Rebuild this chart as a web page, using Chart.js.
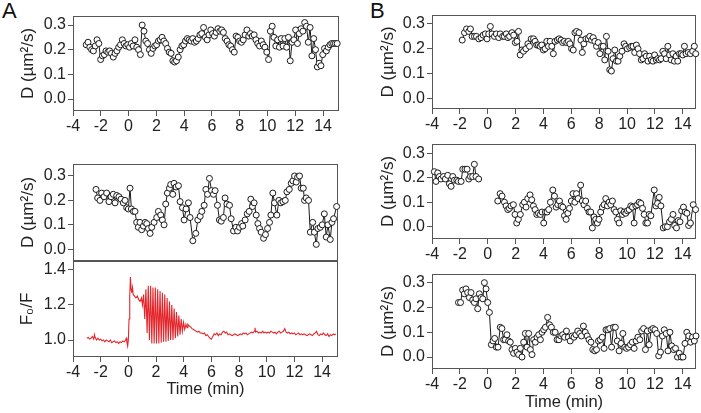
<!DOCTYPE html>
<html><head><meta charset="utf-8">
<script src="https://cdn.jsdelivr.net/npm/chart.js@4.4.1/dist/chart.umd.min.js"></script>
<style>
html,body{margin:0;padding:0;background:#fff;}
#wrap{position:relative;width:701px;height:413px;overflow:hidden;background:#fff;}
canvas{position:absolute;left:0;top:0;}
.lbl{position:absolute;font-family:"Liberation Sans",Arial,sans-serif;font-size:22px;line-height:22px;color:#111;}
</style></head><body>
<div id="wrap">
<div class="lbl" style="left:2px;top:0px">A</div>
<div class="lbl" style="left:370px;top:0px">B</div>
<canvas id="cA1" width="701" height="413"></canvas>
<canvas id="cA2" width="701" height="413"></canvas>
<canvas id="cA3" width="701" height="413"></canvas>
<canvas id="cB1" width="701" height="413"></canvas>
<canvas id="cB2" width="701" height="413"></canvas>
<canvas id="cB3" width="701" height="413"></canvas>
</div>
<script>
// ---------- tick labels ----------
const X_TICKS = [-4,-2,0,2,4,6,8,10,12,14];
const D_TICKS = [0.0,0.1,0.2,0.3];
const F_TICKS = [1.0,1.2,1.4];
const X_TITLE = 'Time (min)';
const D_TITLE = 'D (\u00b5m\u00b2/s)';
const F_TITLE = 'F\u2080/F';

// ---------- data: [time (min), value] ----------
const dA1 = [[-3.05,.22],[-2.92,.23],[-2.79,.21],[-2.66,.20],[-2.53,.195],[-2.40,.215],[-2.27,.24],[-2.14,.225],[-2.01,.16],[-1.88,.175],
[-1.75,.18],[-1.62,.195],[-1.49,.19],[-1.36,.195],[-1.23,.185],[-1.10,.17],[-0.97,.185],[-0.84,.195],[-0.71,.21],[-0.58,.22],
[-0.45,.24],[-0.32,.225],[-0.19,.215],[-0.06,.22],[0.07,.21],[0.20,.225],[0.33,.215],[0.46,.24],[0.59,.21],[0.72,.20],
[0.85,.18],[0.98,.30],[1.11,.275],[1.24,.235],[1.37,.225],[1.50,.20],[1.63,.185],[1.76,.205],[1.89,.215],[2.02,.22],
[2.15,.235],[2.28,.24],[2.41,.25],[2.54,.235],[2.67,.225],[2.80,.205],[2.93,.19],[3.06,.185],[3.19,.155],[3.32,.15],
[3.45,.155],[3.58,.17],[3.71,.20],[3.84,.215],[3.97,.22],[4.10,.235],[4.23,.245],[4.36,.24],[4.49,.235],[4.62,.245],
[4.75,.23],[4.88,.235],[5.01,.245],[5.14,.26],[5.27,.265],[5.40,.29],[5.53,.25],[5.66,.24],[5.79,.26],[5.92,.28],
[6.05,.265],[6.18,.255],[6.31,.27],[6.44,.285],[6.57,.275],[6.70,.28],[6.83,.27],[6.96,.245],[7.09,.235],[7.22,.22],
[7.35,.215],[7.48,.20],[7.61,.19],[7.74,.255],[7.87,.25],[8.00,.235],[8.13,.23],[8.26,.24],[8.39,.26],[8.52,.28],
[8.65,.255],[8.78,.265],[8.91,.255],[9.04,.26],[9.17,.24],[9.30,.225],[9.43,.215],[9.56,.235],[9.69,.22],[9.82,.21],
[9.95,.19],[10.08,.16],[10.21,.275],[10.34,.295],[10.47,.25],[10.60,.215],[10.73,.24],[10.86,.21],[10.99,.245],[11.12,.215],
[11.25,.245],[11.38,.21],[11.51,.25],[11.64,.155],[11.77,.23],[11.90,.24],[12.03,.28],[12.16,.225],[12.29,.265],[12.42,.285],
[12.55,.275],[12.68,.31],[12.81,.295],[12.94,.23],[13.07,.29],[13.20,.175],[13.33,.245],[13.46,.20],[13.59,.13],[13.72,.145],
[13.85,.135],[13.98,.18],[14.11,.205],[14.24,.195],[14.37,.21],[14.50,.22],[14.63,.225],[14.76,.225],[14.89,.225],[15.02,.225]];

const dA2 = [[-2.34,.245],[-2.22,.21],[-2.05,.20],[-1.93,.23],[-1.76,.215],[-1.57,.23],[-1.40,.195],[-1.25,.215],[-1.09,.225],[-0.96,.19],
[-0.84,.22],[-0.68,.215],[-0.53,.205],[-0.36,.19],[-0.24,.20],[-0.12,.17],[0.0,.165],[0.12,.25],[0.22,.165],[0.36,.155],
[0.48,.155],[0.60,.11],[0.72,.09],[0.84,.11],[0.96,.08],[1.09,.095],[1.21,.11],[1.33,.105],[1.45,.085],[1.57,.065],
[1.69,.09],[1.86,.11],[2.05,.13],[2.17,.155],[2.34,.14],[2.46,.12],[2.58,.10],[2.70,.185],[2.82,.23],[2.97,.25],
[3.06,.265],[3.21,.225],[3.30,.27],[3.45,.255],[3.62,.26],[3.74,.195],[3.91,.17],[4.03,.12],[4.17,.165],[4.34,.19],
[4.46,.13],[4.66,.035],[4.87,.065],[5.02,.12],[5.19,.135],[5.31,.155],[5.48,.18],[5.60,.245],[5.72,.225],[5.86,.29],
[6.01,.24],[6.15,.225],[6.27,.24],[6.44,.18],[6.58,.12],[6.71,.115],[6.87,.13],[6.99,.21],[7.12,.185],[7.31,.18],
[7.43,.125],[7.60,.075],[7.77,.09],[7.89,.075],[8.03,.09],[8.18,.105],[8.27,.095],[8.44,.12],[8.59,.145],[8.73,.155],
[8.85,.205],[8.97,.175],[9.09,.19],[9.24,.14],[9.36,.105],[9.48,.085],[9.60,.07],[9.77,.045],[9.91,.06],[10.06,.085],
[10.20,.11],[10.30,.14],[10.44,.23],[10.56,.19],[10.73,.14],[10.88,.20],[11.02,.19],[11.17,.195],[11.34,.20],[11.46,.235],
[11.63,.245],[11.77,.27],[11.89,.28],[12.01,.30],[12.13,.275],[12.23,.295],[12.37,.30],[12.49,.25],[12.64,.25],[12.73,.20],
[12.85,.21],[13.02,.20],[13.15,.07],[13.32,.11],[13.44,.07],[13.58,.02],[13.70,.085],[13.87,.09],[14.01,.10],[14.16,.145],
[14.30,.05],[14.42,.10],[14.59,.04],[14.71,.11],[14.83,.125],[15.05,.175]];

const fA3 = [[-3.0,1.01],[-2.9,1.015],[-2.8,1.005],[-2.7,1.01],[-2.6,1.02],[-2.5,1.005],[-2.45,1.03],[-2.4,1.015],[-2.3,1.0],[-2.2,1.01],
[-2.1,1.0],[-2.0,1.005],[-1.9,0.995],[-1.8,1.0],[-1.7,0.99],[-1.6,1.0],[-1.5,0.995],[-1.4,0.99],[-1.3,1.0],[-1.2,0.985],
[-1.1,0.99],[-1.0,0.995],[-0.9,0.985],[-0.8,0.99],[-0.7,0.98],[-0.6,0.99],[-0.5,0.985],[-0.4,0.995],[-0.3,0.99],[-0.2,1.0],
[-0.15,1.01],[-0.1,0.985],[-0.05,0.965],[0.0,1.0],[0.05,1.12],[0.1,1.25],[0.15,1.36],[0.2,1.29],[0.25,1.27],[0.3,1.30],
[0.35,1.26],[0.45,1.25],[0.55,1.24],[0.65,1.25],[0.75,1.23],[0.85,1.22],[0.95,1.24],[1.02,1.20],
[1.10,1.26],[1.185,1.12],[1.27,1.29],[1.355,1.04],[1.44,1.31],[1.525,1.0],[1.61,1.31],[1.695,0.98],[1.78,1.30],[1.865,0.98],
[1.95,1.30],[2.035,0.98],[2.12,1.29],[2.205,0.98],[2.29,1.28],[2.375,0.985],[2.46,1.27],[2.545,0.99],[2.63,1.26],[2.715,0.99],
[2.80,1.24],[2.885,0.995],[2.97,1.22],[3.055,1.0],[3.14,1.20],[3.225,1.0],[3.31,1.18],[3.395,1.01],[3.48,1.16],[3.565,1.02],
[3.65,1.14],[3.735,1.03],[3.82,1.12],[3.905,1.05],[3.99,1.10],[4.075,1.06],[4.16,1.09],[4.245,1.07],
[4.3,1.09],[4.4,1.08],[4.5,1.075],[4.6,1.065],[4.7,1.06],[4.8,1.055],[4.9,1.05],[5.0,1.045],[5.1,1.05],[5.2,1.04],
[5.3,1.04],[5.4,1.035],[5.5,1.04],[5.6,1.025],[5.7,1.03],[5.8,1.02],[5.9,1.01],[6.0,1.005],[6.1,1.02],[6.2,1.035],
[6.3,1.03],[6.4,1.04],[6.5,1.025],[6.6,1.035],[6.7,1.03],[6.8,1.045],[6.9,1.05],[7.0,1.04],[7.1,1.045],[7.2,1.03],
[7.3,1.035],[7.4,1.03],[7.5,1.025],[7.6,1.03],[7.7,1.035],[7.8,1.03],[7.9,1.025],[8.0,1.03],[8.1,1.035],[8.2,1.03],
[8.3,1.04],[8.4,1.035],[8.5,1.04],[8.6,1.03],[8.7,1.035],[8.8,1.04],[8.9,1.045],[9.0,1.04],[9.1,1.05],[9.15,1.07],
[9.2,1.045],[9.3,1.05],[9.4,1.04],[9.5,1.045],[9.6,1.04],[9.7,1.05],[9.8,1.04],[9.9,1.045],[10.0,1.04],[10.1,1.045],
[10.2,1.04],[10.3,1.05],[10.4,1.045],[10.5,1.04],[10.6,1.045],[10.7,1.035],[10.8,1.045],[10.9,1.05],[11.0,1.04],[11.1,1.045],
[11.2,1.05],[11.3,1.065],[11.4,1.045],[11.5,1.04],[11.6,1.045],[11.7,1.035],[11.8,1.04],[11.9,1.035],[12.0,1.04],[12.1,1.03],
[12.2,1.035],[12.3,1.04],[12.4,1.03],[12.5,1.035],[12.6,1.03],[12.7,1.035],[12.8,1.03],[12.9,1.025],[13.0,1.03],[13.1,1.035],
[13.2,1.03],[13.3,1.025],[13.4,1.035],[13.5,1.04],[13.6,1.05],[13.7,1.03],[13.8,1.025],[13.9,1.035],[14.0,1.03],[14.1,1.04],
[14.2,1.03],[14.3,1.025],[14.4,1.035],[14.5,1.02],[14.6,1.03],[14.7,1.025],[14.8,1.035],[14.9,1.03],[15.0,1.035]];

const dB1 = [[-1.83,.235],[-1.67,.265],[-1.52,.28],[-1.36,.27],[-1.24,.28],[-1.12,.25],[-0.95,.25],[-0.81,.25],[-0.64,.24],[-0.48,.245],
[-0.33,.255],[-0.17,.26],[-0.05,.24],[0.07,.26],[0.19,.29],[0.31,.26],[0.48,.25],[0.62,.26],[0.79,.245],[0.90,.26],
[1.07,.25],[1.19,.25],[1.33,.26],[1.45,.245],[1.57,.25],[1.74,.265],[1.86,.255],[1.98,.225],[2.10,.23],[2.21,.27],
[2.33,.175],[2.45,.195],[2.57,.19],[2.74,.20],[2.88,.22],[3.00,.21],[3.12,.24],[3.29,.24],[3.40,.23],[3.52,.215],
[3.64,.215],[3.76,.21],[3.88,.215],[4.00,.195],[4.12,.20],[4.24,.23],[4.36,.21],[4.48,.23],[4.60,.21],[4.71,.18],
[4.83,.23],[5.00,.235],[5.12,.24],[5.26,.235],[5.38,.225],[5.50,.23],[5.67,.225],[5.79,.23],[5.90,.22],[6.02,.20],
[6.14,.195],[6.26,.265],[6.38,.27],[6.55,.265],[6.69,.235],[6.79,.185],[6.90,.22],[7.05,.24],[7.21,.24],[7.33,.25],
[7.45,.235],[7.57,.245],[7.69,.23],[7.81,.21],[7.93,.225],[8.05,.18],[8.17,.21],[8.29,.21],[8.40,.155],[8.52,.25],
[8.64,.19],[8.76,.115],[8.88,.11],[9.00,.16],[9.12,.195],[9.24,.15],[9.36,.15],[9.48,.17],[9.64,.19],[9.79,.22],
[9.90,.21],[10.02,.20],[10.19,.205],[10.31,.21],[10.43,.21],[10.55,.185],[10.67,.215],[10.79,.20],[10.90,.18],[11.02,.155],
[11.14,.16],[11.26,.18],[11.38,.17],[11.50,.15],[11.62,.17],[11.74,.155],[11.86,.15],[11.98,.175],[12.10,.155],[12.21,.16],
[12.33,.155],[12.45,.16],[12.57,.19],[12.69,.18],[12.81,.16],[12.93,.21],[13.05,.175],[13.17,.155],[13.29,.18],[13.40,.15],
[13.52,.17],[13.64,.15],[13.76,.18],[13.88,.18],[14.00,.175],[14.12,.21],[14.24,.18],[14.40,.185],[14.55,.18],[14.71,.19],
[14.83,.21],[14.93,.18]];

const dB2 = [[-3.83,.225],[-3.71,.185],[-3.59,.22],[-3.47,.205],[-3.35,.195],[-3.18,.205],[-3.04,.195],[-2.87,.21],[-2.75,.175],[-2.63,.165],
[-2.51,.205],[-2.39,.19],[-2.22,.19],[-2.11,.185],[-1.91,.185],[-1.79,.235],[-1.63,.235],[-1.48,.235],[-1.36,.195],[-1.24,.205],
[-1.08,.205],[-0.96,.255],[-0.84,.205],[-0.65,.195],[0.0,null],
[0.72,.105],[0.89,.135],[1.03,.125],[1.20,.10],[1.32,.085],[1.44,.07],[1.56,.075],[1.67,.085],[1.84,.09],[1.96,.05],
[2.08,.015],[2.20,.03],[2.34,.05],[2.51,.09],[2.63,.10],[2.75,.08],[2.87,.115],[3.04,.13],[3.16,.11],[3.28,.085],
[3.40,.07],[3.52,.05],[3.64,.055],[3.78,.05],[3.90,.06],[4.02,.015],[4.14,.06],[4.26,.06],[4.38,.07],[4.50,.10],
[4.67,.15],[4.79,.125],[4.91,.08],[5.03,.09],[5.15,.105],[5.27,.085],[5.39,.08],[5.51,.045],[5.63,.03],[5.75,.055],
[5.87,.075],[6.00,.105],[6.12,.135],[6.25,.10],[6.37,.135],[6.49,.115],[6.67,.17],[6.79,.105],[6.91,.09],[7.03,.105],
[7.15,.075],[7.27,.06],[7.39,.06],[7.51,-.005],[7.63,.04],[7.75,.03],[7.87,.015],[7.99,.03],[8.11,.06],[8.23,.08],
[8.35,.09],[8.47,.115],[8.59,.085],[8.71,.10],[8.83,.09],[8.95,.105],[9.07,.07],[9.19,.06],[9.31,.03],[9.43,.015],
[9.55,.065],[9.67,.05],[9.79,.06],[9.91,.055],[10.03,.065],[10.15,.07],[10.27,.085],[10.39,.08],[10.51,.015],[10.63,.085],
[10.75,.09],[10.87,.10],[10.99,.095],[11.11,.075],[11.23,.05],[11.35,.015],[11.47,.015],[11.59,.05],[11.71,.045],[11.95,.15],
[12.07,.085],[12.19,.095],[12.31,.12],[12.43,.085],[12.60,-.005],[12.75,.0],[12.90,.0],[13.05,.02],[13.18,.03],[13.30,.05],
[13.42,.005],[13.55,-.005],[13.67,.025],[13.80,.02],[13.92,.065],[14.05,.08],[14.17,.06],[14.30,.055],[14.42,.005],[14.55,.015],
[14.75,.09],[14.92,.07]];

const dB3 = [[-2.1,.22],[-1.95,.22],[-1.8,.27],[-1.68,.255],[-1.56,.275],[-1.44,.26],[-1.32,.24],[-1.2,.26],[-1.08,.23],[-0.96,.22],
[-0.84,.235],[-0.72,.195],[-0.6,.255],[-0.48,.24],[-0.36,.235],[-0.24,.30],[-0.12,.275],[0.0,.22],[0.12,.18],[0.26,.05],
[0.38,.065],[0.5,.075],[0.62,.04],[0.74,.04],[0.9,.12],[1.02,.115],[1.14,.07],[1.26,.07],[1.38,.09],[1.5,.065],
[1.62,.06],[1.74,.03],[1.86,.015],[1.98,.035],[2.1,.02],[2.22,.01],[2.34,.035],[2.46,.0],[2.58,.06],[2.7,.095],
[2.82,.04],[2.94,.095],[3.06,.03],[3.18,.01],[3.3,.07],[3.42,.06],[3.54,.08],[3.66,.09],[3.78,.07],[3.9,.10],
[4.02,.11],[4.14,.12],
[4.30,.16],[4.44,.13],[4.57,.12],[4.71,.10],[4.84,.10],[4.98,.07],[5.11,.07],[5.25,.085],[5.38,.09],[5.52,.08],
[5.65,.105],[5.79,.08],[5.92,.065],[6.06,.085],[6.19,.08],[6.33,.09],[6.46,.105],[6.60,.095],[6.73,.085],[6.87,.125],
[7.00,.10],[7.14,.085],[7.27,.07],[7.41,.06],[7.54,.03],[7.68,.025],[7.81,.03],[7.95,.065],[8.08,.07],[8.22,.08],
[8.35,.035],[8.49,.11],[8.62,.11],[8.76,.115],[8.89,.04],[9.03,.12],[9.16,.12],[9.30,.065],[9.43,.025],[9.57,.055],
[9.70,.095],[9.84,.04],[9.97,.035],[10.11,.04],[10.24,.05],[10.38,.06],[10.51,.035],[10.65,.065],[10.78,.08],[10.92,.07],
[11.05,.105],[11.19,.115],[11.32,.03],[11.46,.105],[11.59,.05],[11.73,.11],[11.86,.115],[12.00,.11],[12.13,.095],[12.27,.005],
[12.40,.02],[12.54,.085],[12.67,.11],[12.81,.095],[12.94,.025],[13.08,.10],[13.21,.045],[13.35,.03],[13.48,.035],[13.62,.0],
[13.75,.015],[13.89,.0],[14.02,.0],[14.16,.055],[14.29,.10],[14.43,.085],[14.56,.06],[14.70,.08],[14.83,.065],[14.95,.085]];

// ---------- styling ----------
const FONT = '"Liberation Sans", Arial, sans-serif';
const AXIS = '#555555';
const TXT = '#222222';

const frame = {
  id: 'frame',
  beforeDatasetsDraw(chart) {
    const {ctx, chartArea: a} = chart;
    ctx.save();
    ctx.strokeStyle = AXIS; ctx.lineWidth = 1;
    const l = Math.round(a.left) + 0.5, t = Math.round(a.top) + 0.5;
    const r = Math.round(a.right) - 0.5, b = Math.round(a.bottom) - 0.5;
    ctx.strokeRect(l, t, r - l, b - t);
    ctx.restore();
  }
};

const gridOpt = {display: true, drawOnChartArea: false, drawTicks: true, tickLength: 5, color: AXIS, lineWidth: 1};

function xScale(o) {
  return {
    type: 'linear', min: o.min, max: o.max, display: o.display !== false,
    afterBuildTicks: s => { s.ticks = X_TICKS.map(v => ({value: v})); },
    afterFit: s => { s.height = o.h; },
    grid: gridOpt, border: {display: false},
    ticks: {color: TXT, font: {family: FONT, size: 16}, padding: 1, maxRotation: 0, autoSkip: false, callback: v => String(v)},
    title: o.title ? {display: true, text: o.title, color: TXT, font: {family: FONT, size: 16.5}, padding: {top: 0, bottom: o.tp}} : {display: false}
  };
}
function yScale(o) {
  return {
    type: 'linear', min: o.min, max: o.max,
    afterBuildTicks: s => { s.ticks = o.ticks.map(v => ({value: v})); },
    afterFit: s => { s.width = o.w; },
    grid: gridOpt, border: {display: false},
    ticks: {color: TXT, font: {family: FONT, size: 16}, padding: 2, callback: v => Number(v).toFixed(1)},
    title: {display: true, text: o.title, color: TXT, font: {family: FONT, size: 17}, padding: {top: o.tp, bottom: 0}}
  };
}
function dSet(pairs) {
  return {
    data: pairs.map(p => ({x: p[0], y: p[1]})),
    borderColor: '#1a1a1a', borderWidth: 1, pointRadius: 3,
    pointBackgroundColor: '#ffffff', pointBorderColor: '#1a1a1a', pointBorderWidth: 1,
    tension: 0, clip: false, spanGaps: false
  };
}
function fSet(pairs) {
  return {
    data: pairs.map(p => ({x: p[0], y: p[1]})),
    borderColor: '#e3262b', borderWidth: 1.1, pointRadius: 0, tension: 0, clip: false
  };
}
function make(id, ds, xs, ys, pad) {
  return new Chart(document.getElementById(id), {
    type: 'line',
    data: {datasets: [ds]},
    options: {
      responsive: false, animation: false, events: [],
      layout: {padding: pad},
      plugins: {legend: {display: false}, tooltip: {enabled: false}},
      scales: {x: xs, y: ys}
    },
    plugins: [frame]
  });
}

// Panel A
make('cA1', dSet(dA1),
  xScale({min: -4, max: 15.15, h: 30}),
  yScale({min: -0.0486, max: 0.3365, w: 73, tp: 17.8, ticks: D_TICKS, title: D_TITLE}),
  {left: 0, top: 16, right: 362, bottom: 272});
make('cA2', dSet(dA2),
  xScale({min: -4, max: 15.15, h: 0, display: false}),
  yScale({min: -0.048, max: 0.349, w: 73, tp: 17.8, ticks: D_TICKS, title: D_TITLE}),
  {left: 0, top: 164, right: 363, bottom: 152});
make('cA3', fSet(fA3),
  xScale({min: -4, max: 15.15, h: 50, title: X_TITLE, tp: 7.4}),
  yScale({min: 0.903, max: 1.451, w: 73, tp: 16.8, ticks: F_TICKS, title: F_TITLE}),
  {left: 0, top: 261, right: 363, bottom: 6});
// Panel B
make('cB1', dSet(dB1),
  xScale({min: -4, max: 14.95, h: 30}),
  yScale({min: -0.0432, max: 0.3363, w: 60, tp: 5.8, ticks: D_TICKS, title: D_TITLE}),
  {left: 372, top: 15, right: 3, bottom: 274});
make('cB2', dSet(dB2),
  xScale({min: -4, max: 14.95, h: 30}),
  yScale({min: -0.0503, max: 0.338, w: 60, tp: 5.8, ticks: D_TICKS, title: D_TITLE}),
  {left: 372, top: 144, right: 3, bottom: 144});
make('cB3', dSet(dB3),
  xScale({min: -4, max: 14.95, h: 44, title: X_TITLE, tp: 1.0}),
  yScale({min: -0.0482, max: 0.335, w: 60, tp: 5.8, ticks: D_TICKS, title: D_TITLE}),
  {left: 372, top: 274, right: 3, bottom: 0});
</script>
</body></html>
